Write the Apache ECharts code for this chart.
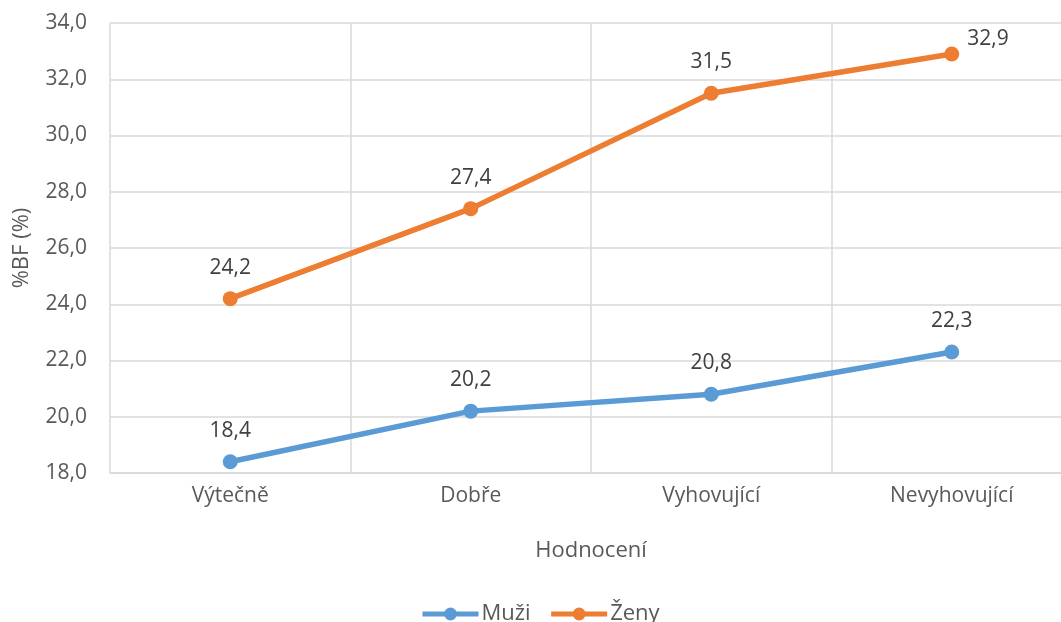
<!DOCTYPE html>
<html>
<head>
<meta charset="utf-8">
<script src="https://cdn.jsdelivr.net/npm/echarts@6/dist/echarts.min.js"></script>
<style>
  html, body { margin: 0; padding: 0; background: #ffffff; }
  #chart { width: 1061px; height: 622px; }
</style>
</head>
<body>
<div id="chart"></div>
<script>
// Hodnocení kategorie a průměrné %BF
const categories = ['Výtečně', 'Dobře', 'Vyhovující', 'Nevyhovující'];
const muzi = [18.4, 20.2, 20.8, 22.3];
const zeny = [24.2, 27.4, 31.5, 32.9];
const yMin = 18, yMax = 34, yStep = 2;

const FONT = '"Open Sans", "Liberation Sans", sans-serif';
const fmt = v => v.toFixed(1).replace('.', ',');

const chart = echarts.init(document.getElementById('chart'));

const labelBase = {
  show: true,
  position: 'top',
  distance: 13,
  color: '#404040',
  fontSize: 21,
  fontFamily: FONT,
  formatter: p => fmt(p.value)
};

chart.setOption({
  animation: false,
  textStyle: { fontFamily: FONT },
  grid: { left: 110, width: 962, top: 23, height: 450, outerBoundsMode: 'none', containLabel: false },
  xAxis: {
    type: 'category',
    data: categories,
    boundaryGap: true,
    name: 'Hodnocení',
    nameLocation: 'middle',
    nameGap: 67,
    nameTextStyle: { color: '#595959', fontSize: 22, fontFamily: FONT },
    axisLine: { show: true, lineStyle: { color: '#d9d9d9', width: 1.5 } },
    axisTick: { show: false },
    axisLabel: { color: '#595959', fontSize: 21, margin: 13, fontFamily: FONT },
    splitLine: { show: true, lineStyle: { color: '#d9d9d9', width: 1.5 } }
  },
  yAxis: {
    type: 'value',
    min: yMin, max: yMax, interval: yStep,
    name: '%BF (%)',
    nameLocation: 'middle',
    nameGap: 77,
    nameTextStyle: { color: '#595959', fontSize: 22, fontFamily: FONT },
    axisLine: { show: false },
    axisTick: { show: false },
    axisLabel: { color: '#595959', fontSize: 21, margin: 23, fontFamily: FONT, formatter: v => fmt(v) },
    splitLine: { show: true, lineStyle: { color: '#d9d9d9', width: 1.5 } }
  },
  legend: {
    top: 598,
    left: 415,
    itemWidth: 56,
    itemHeight: 16,
    itemGap: 18,
    lineStyle: { width: 5 },
    textStyle: { color: '#595959', fontSize: 22, fontFamily: FONT, padding: [0, 0, 0, -2] },
    data: ['Muži', 'Ženy']
  },
  series: [
    {
      name: 'Muži',
      type: 'line',
      data: muzi,
      symbol: 'circle',
      symbolSize: 15,
      lineStyle: { color: '#5b9bd5', width: 5.5 },
      itemStyle: { color: '#5b9bd5' },
      label: labelBase
    },
    {
      name: 'Ženy',
      type: 'line',
      data: zeny.map((v, i) => i === zeny.length - 1
        ? { value: v, label: { position: 'right', distance: 8, offset: [0, -15] } }
        : v),
      symbol: 'circle',
      symbolSize: 15,
      lineStyle: { color: '#ed7d31', width: 5.5 },
      itemStyle: { color: '#ed7d31' },
      label: labelBase
    }
  ]
});
</script>
</body>
</html>
